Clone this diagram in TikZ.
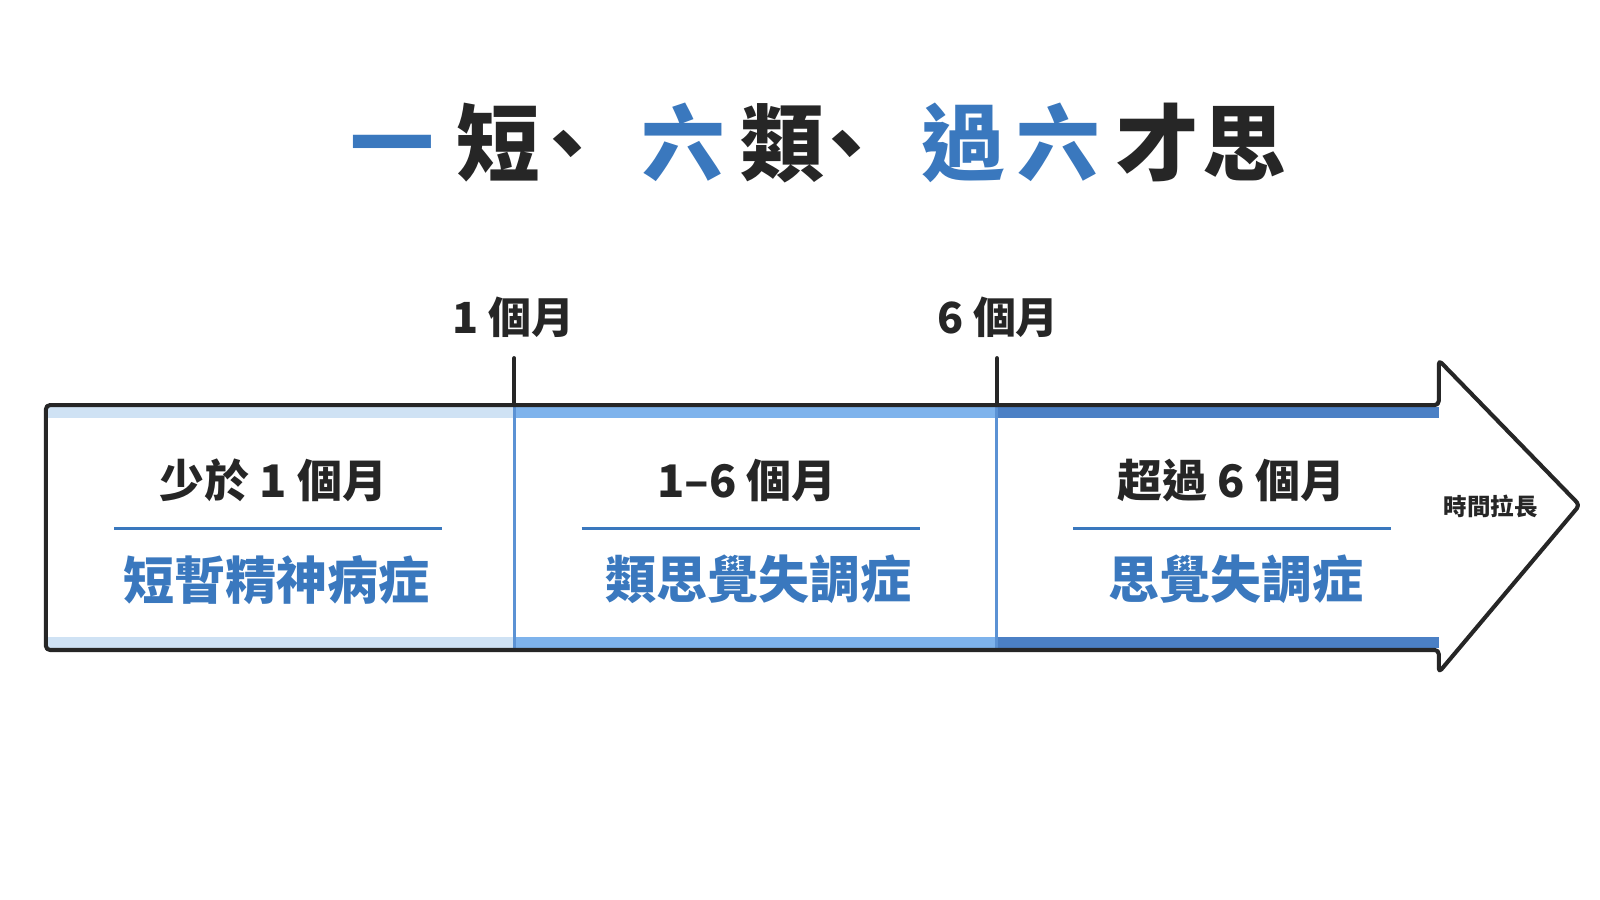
\documentclass[tikz,border=0pt]{standalone}
\usepackage{fontspec}
\setmainfont{Noto Sans CJK TC}
\usepackage{tikz}
\definecolor{ink}{HTML}{262626}
\definecolor{navy}{HTML}{3A78BE}
\definecolor{pale}{HTML}{CFE2F4}
\definecolor{mid}{HTML}{7EB3EC}
\definecolor{deep}{HTML}{4B80C5}
\definecolor{rule}{HTML}{5B92D4}

\begin{document}
\begin{tikzpicture}[x=0.5pt,y=-0.5pt,
	titlechar/.style={font=\fontsize{41}{48}\selectfont\bfseries, anchor=base},
	period/.style={font=\fontsize{22}{26}\selectfont\bfseries, text=ink},
	illness/.style={font=\fontsize{25}{30}\selectfont\bfseries, text=navy},
	ticklabel/.style={font=\fontsize{21}{25}\selectfont\bfseries, text=ink},
	sep/.style={navy, line width=1.5pt},
	divider/.style={rule, line width=1.5pt}]
	\useasboundingbox[fill=white] (0,0) rectangle (1568,882);
	% title
	\foreach \ch/\cx/\cc [count=\i] in {一/384/navy, 短/488/ink, 、/556/ink, 六/670/navy, 類/767/ink,
		、/829/ink, 過/944/navy, 六/1037/navy, 才/1134/ink, 思/1219/ink}
		\node (t\i) at (\cx,171) [titlechar, text=\cc]{\ch};
	% stripes
	\fill[pale] (45,399) rectangle (504,410);
	\fill[pale] (45,624) rectangle (504,635);
	\fill[mid] (504,399) rectangle (977,410);
	\fill[mid] (504,624) rectangle (977,635);
	\fill[deep] (977,399) rectangle (1410,410);
	\fill[deep] (977,624) rectangle (1410,635);
	\draw[divider] (504,399) -- (504,635);
	\draw[divider] (977,399) -- (977,635);
	% arrow outline
	\draw[ink, line width=2pt, line join=round, rounded corners=2pt]
		(45,397) -- (1410,397) -- (1410,353) -- (1548,495) -- (1410,659) -- (1410,637) -- (45,637) -- cycle;
	% ticks
	\coordinate (ta) at (504,397);
	\coordinate (tb) at (977,397);
	\draw[ink, line width=2pt, line cap=round] (ta) -- ++(0,-46);
	\draw[ink, line width=2pt, line cap=round] (tb) -- ++(0,-46);
	\node (mone) at (503,311) [ticklabel]{1 個月};
	\node (msix) at (978,311) [ticklabel]{6 個月};
	% sections
	\node (pa) at (268,471) [period]{少於 1 個月};
	\draw[sep] (112,518) -- (433,518);
	\node (da) at (271,568) [illness]{短暫精神病症};
	\node (pb) at (732,471) [period]{1–6 個月};
	\draw[sep] (570,518) -- (902,518);
	\node (db) at (743,568) [illness]{類思覺失調症};
	\node (pc) at (1207,471) [period]{超過 6 個月};
	\draw[sep] (1052,518) -- (1363,518);
	\node (dc) at (1211,568) [illness]{思覺失調症};
	\node (lng) at (1461,496) [font=\fontsize{11.5}{14}\selectfont\bfseries, text=ink]{時間拉長};
\end{tikzpicture}
\end{document}
